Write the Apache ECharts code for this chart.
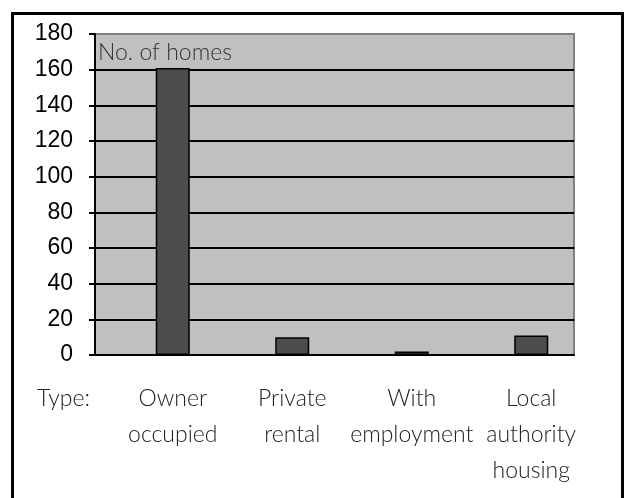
<!DOCTYPE html>
<html><head><meta charset="utf-8">
<script src="https://cdn.jsdelivr.net/npm/echarts@6/dist/echarts.min.js"></script>
<style>html,body{margin:0;padding:0;background:#fff}#c{width:624px;height:498px}</style>
</head><body><div id="c"></div>
<script>
const categories = ['Owner\noccupied', 'Private\nrental', 'With\nemployment', 'Local\nauthority\nhousing'];
const homes = [161, 10, 2, 11];
const yTicks = { min: 0, max: 180, interval: 20 };
const axisTitle = 'No. of homes';
const typeLabel = 'Type:';

const chart = echarts.init(document.getElementById('c'), null, { renderer: 'canvas' });
const labelFont = 'Lato, "Open Sans", sans-serif';
chart.setOption({
  animation: false,
  backgroundColor: '#fff',
  grid: [
    { left: 95, top: 34, width: 479, height: 321, show: true, backgroundColor: '#c0c0c0', borderColor: '#808080', borderWidth: 2 },
    { left: 113, top: 34, width: 478, height: 321, show: false }
  ],
  xAxis: [
    { gridIndex: 0, type: 'value', min: 0, max: 1, axisLine: { show: true, lineStyle: { color: '#000', width: 2 } },
      axisTick: { show: false }, axisLabel: { show: false }, splitLine: { show: false } },
    { gridIndex: 1, type: 'category', data: categories, axisLine: { show: false }, axisTick: { show: false },
      axisLabel: { margin: 26, fontFamily: labelFont, fontWeight: 300, fontSize: 23, color: '#222', lineHeight: 36, interval: 0 } }
  ],
  yAxis: [
    { gridIndex: 0, type: 'value', min: yTicks.min, max: yTicks.max, interval: yTicks.interval,
      axisLine: { show: true, lineStyle: { color: '#000', width: 2 } },
      axisTick: { show: true, length: 6, lineStyle: { color: '#000', width: 2 } },
      axisLabel: { fontFamily: '"Liberation Sans", Arial, sans-serif', fontSize: 23, color: '#000', margin: 22 },
      splitLine: { show: true, showMaxLine: false, lineStyle: { color: '#000', width: 2 } } },
    { gridIndex: 1, type: 'value', min: yTicks.min, max: yTicks.max, show: false, splitLine: { show: false } }
  ],
  series: [{
    type: 'bar', xAxisIndex: 1, yAxisIndex: 1, data: homes, barWidth: 34,
    itemStyle: { color: '#4d4d4d', borderColor: '#000', borderWidth: 1.5 }
  }],
  graphic: [
    { type: 'rect', left: 10, top: 11, z: 100, silent: true,
      shape: { width: 610, height: 500 }, style: { fill: 'none', stroke: '#000', lineWidth: 3 } },
    { type: 'text', left: 98, top: 41, z: 100,
      style: { text: axisTitle, font: '300 23px ' + labelFont, fill: '#333' } },
    { type: 'text', left: 37, top: 387, z: 100,
      style: { text: typeLabel, font: '300 23px ' + labelFont, fill: '#222' } }
  ]
});
</script></body></html>
